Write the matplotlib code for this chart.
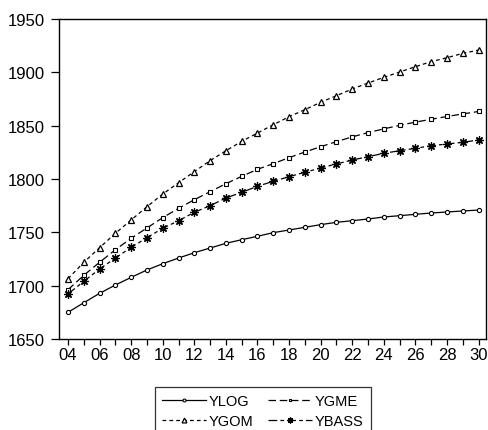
import matplotlib
matplotlib.use('Agg')
import matplotlib.pyplot as plt
from matplotlib.ticker import MultipleLocator, FuncFormatter

years = list(range(2004, 2031))

ylog = [1675.0, 1684.0, 1692.8, 1700.6, 1707.8, 1714.7, 1720.6, 1725.9, 1730.9, 1735.3,
        1739.7, 1743.1, 1746.3, 1749.7, 1752.2, 1754.7, 1757.2, 1759.4, 1760.9, 1762.5,
        1764.4, 1765.6, 1766.9, 1768.1, 1769.1, 1770.0, 1770.9]
ygom = [1706.5, 1721.9, 1735.6, 1749.1, 1761.6, 1774.0, 1785.9, 1796.5, 1806.9, 1817.2,
        1826.5, 1835.3, 1843.1, 1850.9, 1858.4, 1865.0, 1871.9, 1878.1, 1884.4, 1890.0,
        1895.3, 1900.3, 1905.3, 1910.0, 1913.7, 1917.8, 1920.9]
ygme = [1696.2, 1709.7, 1721.9, 1733.7, 1744.4, 1754.1, 1763.8, 1772.5, 1780.6, 1788.1,
        1795.6, 1802.5, 1809.1, 1814.4, 1820.0, 1825.3, 1830.3, 1835.0, 1839.5, 1843.5,
        1847.0, 1850.3, 1853.3, 1856.0, 1858.6, 1861.0, 1863.3]
ybass = [1692.2, 1704.1, 1715.6, 1725.9, 1735.9, 1745.0, 1753.8, 1760.9, 1768.8, 1775.0,
         1782.2, 1787.5, 1793.2, 1797.8, 1802.2, 1806.3, 1810.3, 1814.1, 1817.8, 1820.9,
         1824.1, 1826.5, 1828.8, 1831.2, 1832.8, 1834.4, 1836.6]

plt.rcParams['font.family'] = ['Liberation Sans', 'DejaVu Sans']

fig = plt.figure(figsize=(4.89, 4.31), dpi=100)
ax = fig.add_axes([59 / 489, 1 - 340 / 431, (486 - 59) / 489, 320 / 431])

lw = 0.9
l1, = ax.plot(years, ylog, color='black', lw=lw, linestyle='-', marker='o', ms=3,
              mfc='white', mec='black', mew=0.8, label='YLOG')
l2, = ax.plot(years, ygme, color='black', lw=lw, linestyle=(0, (6, 3)), marker='s', ms=3,
              mfc='white', mec='black', mew=0.8, label='YGME')
l3, = ax.plot(years, ygom, color='black', lw=lw, linestyle=(0, (3, 2.5)), marker='^', ms=5,
              mfc='white', mec='black', mew=0.9, label='YGOM')
l4, = ax.plot(years, ybass, color='black', lw=lw, linestyle=(0, (7, 2.5, 3, 2.5)), marker=(8, 2, 0),
              ms=6, mfc='black', mec='black', mew=0.9, label='YBASS')

ax.set_xlim(2003.43, 2030.47)
ax.set_ylim(1650, 1950)
ax.yaxis.set_major_locator(MultipleLocator(50))
ax.xaxis.set_major_locator(MultipleLocator(2))
ax.xaxis.set_minor_locator(MultipleLocator(1))
ax.xaxis.set_major_formatter(FuncFormatter(lambda v, p: '%02d' % (int(round(v)) % 100)))

for s in ax.spines.values():
    s.set_linewidth(1.0)
ax.tick_params(axis='y', direction='out', length=6, width=0.9, pad=4, labelsize=12)
ax.tick_params(axis='x', which='both', direction='out', length=4, width=0.9, pad=2, labelsize=12)

# legend fills by column: YLOG/YGOM left, YGME/YBASS right
leg = fig.legend(handles=[l1, l3, l2, l4], loc='upper left',
                 bbox_to_anchor=(155 / 489, 1 - 388 / 431), ncol=2,
                 fontsize=10.5, frameon=True, fancybox=False, edgecolor='black',
                 handlelength=3.0, handletextpad=0.2, columnspacing=1.0,
                 labelspacing=0.4, borderpad=0.5, markerscale=0.7,
                 borderaxespad=0, numpoints=1)
leg.get_frame().set_linewidth(0.9)

fig.savefig('out.png', dpi=100)
